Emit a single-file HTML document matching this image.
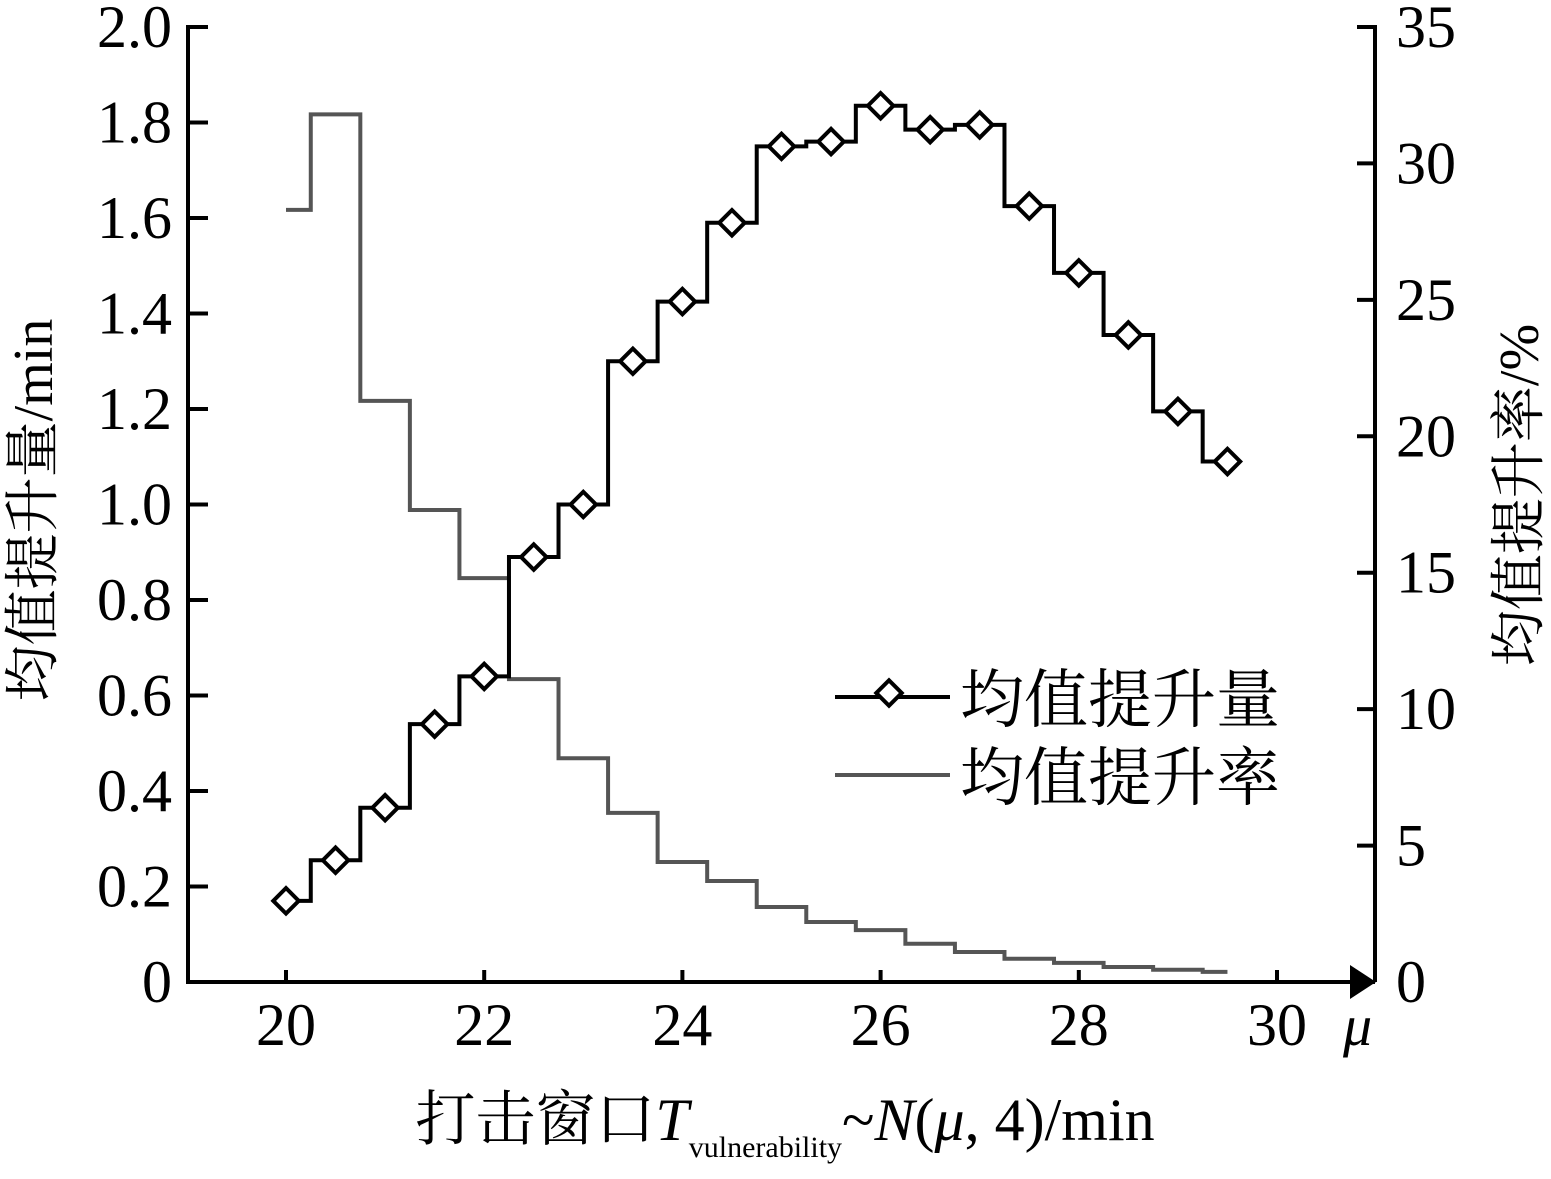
<!DOCTYPE html>
<html><head><meta charset="utf-8"><style>
body{margin:0;background:#fff;}
svg text{font-family:"Liberation Serif","Noto Serif CJK SC",serif;fill:#000;}
</style></head><body>
<svg width="1551" height="1174" viewBox="0 0 1551 1174" xmlns="http://www.w3.org/2000/svg">
<g id="axes"></g><g id="series"></g>
<text x="52" y="510" font-size="56" text-anchor="middle" transform="rotate(-90 52 510)"><tspan style="font-family:'Noto Serif CJK SC',serif">均值提升量</tspan>/min</text>
<text x="1538" y="495" font-size="56" text-anchor="middle" transform="rotate(-90 1538 495)"><tspan style="font-family:'Noto Serif CJK SC',serif">均值提升率</tspan>/%</text>
<text x="1343" y="1045" font-size="58" font-style="italic">μ</text>
<text x="785" y="1140" font-size="60" text-anchor="middle"><tspan style="font-family:'Noto Serif CJK SC',serif">打击窗口</tspan><tspan font-style="italic">T</tspan><tspan font-size="30" dy="17">vulnerability</tspan><tspan dy="-17">~</tspan><tspan font-style="italic">N</tspan>(<tspan font-style="italic">μ</tspan>, 4)/min</text>
<g>
<line x1="835" y1="697" x2="950" y2="697" stroke="#000" stroke-width="4"/>
<rect x="880" y="684" width="18" height="18" fill="#fff" stroke="#000" stroke-width="4" transform="rotate(45 889 693)"/>
<text x="960" y="722" font-size="64" style="font-family:'Noto Serif CJK SC',serif">均值提升量</text>
<line x1="835" y1="775" x2="950" y2="775" stroke="#555" stroke-width="4"/>
<text x="960" y="800" font-size="64" style="font-family:'Noto Serif CJK SC',serif">均值提升率</text>
</g>
</svg>
<script>
const mu=[20,20.5,21,21.5,22,22.5,23,23.5,24,24.5,25,25.5,26,26.5,27,27.5,28,28.5,29,29.5];
const amount=[0.17,0.255,0.365,0.54,0.64,0.89,1.0,1.3,1.425,1.59,1.75,1.76,1.835,1.785,1.795,1.625,1.485,1.355,1.195,1.09];
const rate=[28.3,31.8,21.3,17.3,14.8,11.1,8.2,6.2,4.4,3.7,2.75,2.2,1.9,1.4,1.1,0.85,0.7,0.55,0.45,0.37];
const xTicks=[20,22,24,26,28,30];
const yLeftTicks=["0","0.2","0.4","0.6","0.8","1.0","1.2","1.4","1.6","1.8","2.0"];
const yRightTicks=[0,5,10,15,20,25,30,35];
const NS="http://www.w3.org/2000/svg";
const X=v=>286+(v-20)*99.1;
const YL=v=>982-v/2*955;
const YR=v=>982-v/35*955;
function mk(t,a,p){const e=document.createElementNS(NS,t);for(const k in a)e.setAttribute(k,a[k]);p.appendChild(e);return e;}
const ax=document.getElementById('axes'),se=document.getElementById('series');
let e=mk('path',{d:'M188 25 L188 982 L1360 982 M1375 25 L1375 982',stroke:'#000','stroke-width':4,fill:'none'},ax);


e=mk('path',{d:'M1350 965 L1376 982 L1350 999 Z',fill:'#000'},ax);


mk('path',{d:'M1357 27 L1375 27',stroke:'#000','stroke-width':4},ax);
xTicks.forEach(v=>{mk('line',{x1:X(v),x2:X(v),y1:982,y2:970,stroke:'#000','stroke-width':4},ax);
const t=mk('text',{x:X(v),y:1045,'font-size':60,'text-anchor':'middle'},ax);t.textContent=v;

});
yLeftTicks.forEach((s,i)=>{const y=YL(i*0.2);mk('line',{x1:188,x2:208,y1:y,y2:y,stroke:'#000','stroke-width':4},ax);
const t=mk('text',{x:172,y:y+20,'font-size':60,'text-anchor':'end'},ax);t.textContent=s;

});
yRightTicks.forEach(v=>{const y=YR(v);mk('line',{x1:1357,x2:1375,y1:y,y2:y,stroke:'#000','stroke-width':4},ax);
const t=mk('text',{x:1396,y:y+20,'font-size':60},ax);t.textContent=v;

});
function stepPath(vals,Y){let d='';vals.forEach((v,i)=>{const x0=i==0?X(mu[i]):X(mu[i]-0.25);const x1=i==vals.length-1?X(mu[i]):X(mu[i]+0.25);d+=(i==0?'M':'L')+x0+' '+Y(v)+' L'+x1+' '+Y(v)+' ';});return d;}
e=mk('path',{d:stepPath(rate,YR),stroke:'#555','stroke-width':4,fill:'none'},se);


e=mk('path',{d:stepPath(amount,YL),stroke:'#000','stroke-width':4,fill:'none'},se);


amount.forEach((v,i)=>{const x=X(mu[i]),y=YL(v);
const m=mk('rect',{x:x-9,y:y-9,width:18,height:18,fill:'#fff',stroke:'#000','stroke-width':4,transform:`rotate(45 ${x} ${y})`},se);

});
</script>
</body></html>
